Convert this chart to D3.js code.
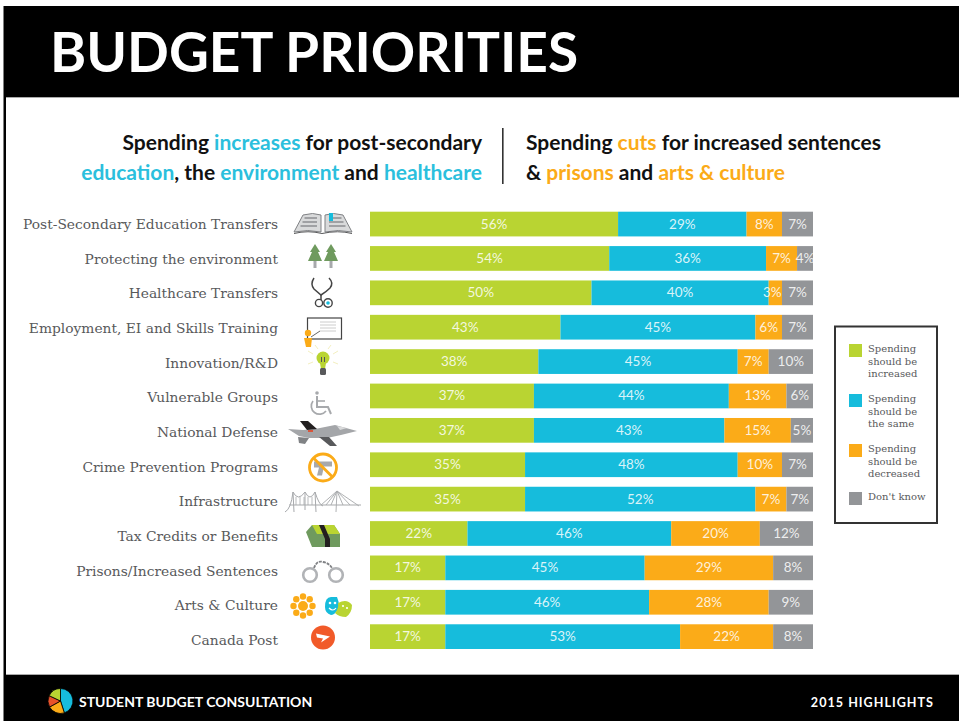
<!DOCTYPE html>
<html><head><meta charset="utf-8">
<script src="https://cdn.jsdelivr.net/npm/d3@7"></script>
<style>html,body{margin:0;padding:0;background:#fff}svg{display:block}</style></head>
<body><svg id="c" width="959" height="721"></svg>
<script>
const categories=["Post-Secondary Education Transfers","Protecting the environment","Healthcare Transfers","Employment, EI and Skills Training","Innovation/R&D","Vulnerable Groups","National Defense","Crime Prevention Programs","Infrastructure","Tax Credits or Benefits","Prisons/Increased Sentences","Arts & Culture","Canada Post"];
// printed percentages
const increased=[56,54,50,43,38,37,37,35,35,22,17,17,17];
const same=[29,36,40,45,45,44,43,48,52,46,45,46,53];
const decreased=[8,7,3,6,7,13,15,10,7,20,29,28,22];
const dontKnow=[7,4,7,7,10,6,5,7,7,12,8,9,8];
// segment lengths as drawn in the picture (they differ slightly from the printed labels)
const sameDrawn=[29,35.4,40,44,45,44,43,48,52,46,45,46,53];
const decreasedDrawn=[8,7,3,6,7,13,15,10,7,20,29,27,21];
const dontKnowDrawn=[7,3.6,7,7,10,6,5,7,6,12,9,10,9];
const seriesNames=["Spending should be increased","Spending should be the same","Spending should be decreased","Don't know"];
const colors=["#b9d432","#16bcdc","#fbab18","#939598"];
const printed=[increased,same,decreased,dontKnow];
const drawn=[increased,sameDrawn,decreasedDrawn,dontKnowDrawn];

const svg=d3.select("#c");
const slab="'DejaVu Serif'",sans="Lato";
svg.append("rect").attr("x",3.5).attr("y",6).attr("width",956).attr("height",715).attr("fill","#000");
svg.append("rect").attr("x",6).attr("y",97).attr("width",953).attr("height",578).attr("fill","#fff");
svg.append("rect").attr("x",6).attr("y",97).attr("width",953).attr("height",1).attr("fill","#aaa");
svg.append("rect").attr("x",6).attr("y",674).attr("width",953).attr("height",1).attr("fill","#aaa");
svg.append("text").attr("x",50).attr("y",71.5).attr("font-family",sans).attr("font-weight",700).attr("font-size",55).attr("fill","#fff").text("BUDGET PRIORITIES");

function rich(x,y,anchor,parts){
  const t=svg.append("text").attr("x",x).attr("y",y).attr("text-anchor",anchor).attr("font-family",sans).attr("font-weight",700).attr("font-size",21);
  parts.forEach(p=>t.append("tspan").attr("fill",p[1]).text(p[0]));
}
const k="#111",b="#2bbfdd",o="#fbab18";
rich(482,150,"end",[["Spending ",k],["increases",b],[" for post-secondary",k]]);
rich(482,180,"end",[["education",b],[", the ",k],["environment",b],[" and ",k],["healthcare",b]]);
rich(526,150,"start",[["Spending ",k],["cuts",o],[" for increased sentences",k]]);
rich(526,180,"start",[["& ",k],["prisons",o],[" and ",k],["arts & culture",o]]);
svg.append("rect").attr("x",502).attr("y",128).attr("width",1.6).attr("height",56).attr("fill","#333");

const x=d3.scaleLinear().domain([0,100]).range([370,813]);
const y=d3.scaleBand().domain(categories).range([211.7,649]).paddingInner(0.281).paddingOuter(0);
const labelY=d3.scalePoint().domain(categories).range([229,645]);
categories.forEach((c,i)=>{
  let acc=0;
  drawn.forEach((s,j)=>{
    const x0=x(acc),x1=x(acc+s[i]);acc+=s[i];
    const v=printed[j][i];
    svg.append("rect").attr("x",x0).attr("y",y(c)).attr("width",x1-x0).attr("height",y.bandwidth()).attr("fill",colors[j]);
    svg.append("text").attr("x",(x0+x1)/2-(v===3?3:0)).attr("y",y(c)+y.bandwidth()/2+4.5).attr("text-anchor","middle").attr("font-family",sans).attr("font-size",13.5).attr("fill","#fff").attr("fill-opacity",.85).text(v+"%");
  });
  svg.append("text").attr("x",278).attr("y",labelY(c)).attr("text-anchor","end").attr("font-family",slab).attr("font-size",13.8).attr("fill","#58595b").text(c);
});

// decorative row icons
const gr="#a7a9ac",dk="#58595b",gn="#6f9a5e";
function P(g,d,fill,stroke,sw){return g.append("path").attr("d",d).attr("fill",fill||"none").attr("stroke",stroke||"none").attr("stroke-width",sw||1);}
function C(g,cx,cy,r,fill,stroke,sw){return g.append("circle").attr("cx",cx).attr("cy",cy).attr("r",r).attr("fill",fill||"none").attr("stroke",stroke||"none").attr("stroke-width",sw||1);}
const at=(cx,cy)=>svg.append("g").attr("transform",`translate(${cx},${cy})`);
// book
{const g=at(323,223);
 P(g,"M-29 9L-20-8Q-10-11-2-8V9Q-15 6-29 9Z","#d9dadb","#808285",1);
 P(g,"M29 9L20-8Q10-11 2-8V9Q15 6 29 9Z","#d9dadb","#808285",1);
 P(g,"M-29 10.5Q-15 7-1 10.5Q15 7 29 10.5","none",dk,1);
 [-5,-1,3].forEach(t=>{P(g,`M${-21+t*-.5} ${t}H-6M6 ${t}H${21+t*.5}`,"none","#8d8f92",1.4);});
 g.append("rect").attr("x",6).attr("y",-10).attr("width",4).attr("height",8).attr("fill",colors[1]);}
// trees
{const g=at(323,256);
 [-8,8].forEach(t=>{g.append("rect").attr("x",t-1.5).attr("y",4).attr("width",3).attr("height",8).attr("fill",gr);
  P(g,`M${t} -12L${t+5} -4H${t+3}L${t+7} 5H${t-7}L${t-3} -4H${t-5}Z`,gn);});}
// stethoscope
{const g=at(323,292);
 P(g,"M-9-14Q-13-8-9-3L-2 3Q3 0 7-4Q11-9 6-14","none","#444",1.5);
 P(g,"M-2 3V8","none","#444",1.5);
 C(g,-4,11,3.6,"#fff","#444",1.4);C(g,5,11,4.2,"#fff","#444",1.4);C(g,5,11,1.8,colors[1]);}
// classroom board
{const g=at(323,333);
 g.append("rect").attr("x",-15.5).attr("y",-15).attr("width",34).attr("height",21).attr("fill","#fff").attr("stroke","#444").attr("stroke-width",1.2);
 [-11,-8,-5,-2].forEach(t=>P(g,`M-3 ${t}H13`,"none","#ccc",1));
 P(g,"M-12 4L-3-2","none","#666",1);
 C(g,-15,0,3.2,colors[2]);P(g,"M-19 5H-11L-12 14H-17Z",colors[2]);}
// bulb
{const g=at(323,362);
 C(g,0,-4,6.5,colors[0]);P(g,"M-3 1H3L2 7H-2Z",colors[0]);
 P(g,"M-1.5-5V0M1.5-5V0","none","#555",1);
 g.append("rect").attr("x",-3).attr("y",6).attr("width",6).attr("height",7).attr("rx",1.5).attr("fill","#58595b");
 P(g,"M-15-11L-10-8M-8-17L-5-13M8-17L5-13M15-11L10-8M-15 2L-10 0M15 2L10 0","none","#f3efc0",1);}
// wheelchair
{const g=at(322,404);
 C(g,-5,-11,1.8,gr);
 P(g,"M-5-8V3H6L9 10","none",gr,2);P(g,"M-5-3H3","none",gr,1.6);
 P(g,"M-9-3A7.5 7.5 0 1 0 4 7","none",gr,1.7);}
// jet
{const g=at(323,433);
 P(g,"M-35-4L-20-3L-8-4L12-8L34-2L18 2L4 5L-14 5L-24 3Z","#a4a6a9");
 P(g,"M-23-12L-15-12L-6-4L-16-3Z","#231f20");
 P(g,"M-4 4L6 4L14 13L7 13Z","#58595b");
 P(g,"M-25 4L-14 5L-18 11L-24 10Z","#808285");
 g.append("rect").attr("x",-15).attr("y",-3).attr("width",5).attr("height",2).attr("fill","#d8553b");
 P(g,"M14-7L24-5L17-3Z","#d9dadb");}
// no gun
{const g=at(323,467.5);
 P(g,"M-9-6H9V-1H1L-1 8H-6L-4 0H-9Z",gr);
 C(g,0,0,13.5,"none",colors[2],2.8);P(g,"M-9.5-9.5L9.5 9.5","none",colors[2],2.8);}
// bridge
{const g=at(323,501);
 P(g,"M-38 11Q-32 8-30-9L-29 11M-30-9Q-25 1-18-9Q-13 1-8-9L-7 11M-8-9Q-4 4 0 5M-18-9V9","none",gr,1);
 P(g,"M-34 4H38","none",gr,1.2);
 P(g,"M14-10L13 11M14-10L-2 4M14-10L3 4M14-10L8 4M14-10L20 4M14-10L27 4M14-10L36 5","none",gr,.9);
 d3.range(-27,-8,4).forEach(t=>P(g,`M${t} -4V4`,"none",gr,.8));}
// money
{const g=at(323,536);
 P(g,"M-17-4L-11-11H11L17-2V11H-11Z",gn);
 P(g,"M-11-11H11L17-2H-6Z","#b9d432");
 P(g,"M-4-11H1L7 3V11H2V3Z","#231f20");}
// handcuffs
{const g=at(323,571);
 C(g,-13,4,6.8,"#fff","#b1b3b6",2.6);C(g,13,4,6.8,"#fff","#b1b3b6",2.6);
 P(g,"M-9-3Q-6-11 0-9Q6-8 9-3","none","#808285",1.8).attr("stroke-dasharray","3 1");}
// gem and masks
{const g=at(303,606);
 C(g,0,0,5,colors[2]);
 d3.range(8).forEach(i=>{const a=i*Math.PI/4;C(g,Math.cos(a)*9.5,Math.sin(a)*9.5,3.2,colors[2]);});
 const m=at(339,606);
 P(m,"M-14 1Q-14-9 -8-9Q-4-9-2-9Q2 1-2 5Q-5 9-8 9Q-14 7-14 1Z",colors[1]);
 P(m,"M-1-3Q8-8 13-1Q13 7 7 11Q0 11-4 7Q0 2-1-3Z",colors[0]);
 C(m,-9,-3,1.3,"#fff");C(m,-4,-3,1.3,"#fff");P(m,"M-10 2Q-6 6-3 2","none","#fff",1.2);
 C(m,4,0,1.1,"#fff");C(m,8,2,1.1,"#fff");}
// post
{const g=at(323,637.5);
 C(g,0,0,12,"#f15a29");
 P(g,"M-7-4L7-1L-2 5L0 1L-6 0Z","#fff");}
// footer pie
{const g=at(60.5,701);
 const pie=d3.pie().sort(null).startAngle(0)([45,22,15,18]);
 const arc=d3.arc().innerRadius(0).outerRadius(12.5);
 const pc=[colors[1],colors[2],"#e8522a",colors[0]];
 g.selectAll("path").data(pie).join("path").attr("d",arc).attr("fill",(d,i)=>pc[i]).attr("stroke","#000").attr("stroke-width",.8);}

// legend
svg.append("rect").attr("x",835).attr("y",326.5).attr("width",102).attr("height",196.5).attr("fill","#fff").attr("stroke","#333").attr("stroke-width",2);
const legendLines=[["Spending","should be","increased"],["Spending","should be","the same"],["Spending","should be","decreased"],["Don't know"]];
const ly=[344,394,444,492];
legendLines.forEach((ls,i)=>{
  svg.append("rect").attr("x",849).attr("y",ly[i]).attr("width",13).attr("height",13).attr("fill",colors[i]);
  ls.forEach((l,j)=>svg.append("text").attr("x",868).attr("y",ly[i]+8+j*12.7).attr("font-family",slab).attr("font-size",10).attr("fill","#58595b").text(l));
});
// footer
svg.append("text").attr("x",79).attr("y",706.5).attr("font-family",sans).attr("font-weight",700).attr("font-size",14).attr("fill","#fff").text("STUDENT BUDGET CONSULTATION");
svg.append("text").attr("x",934).attr("y",706.5).attr("text-anchor","end").attr("font-family",sans).attr("font-weight",700).attr("font-size",12.6).attr("letter-spacing",1).attr("fill","#fff").text("2015 HIGHLIGHTS");
</script></body></html>
